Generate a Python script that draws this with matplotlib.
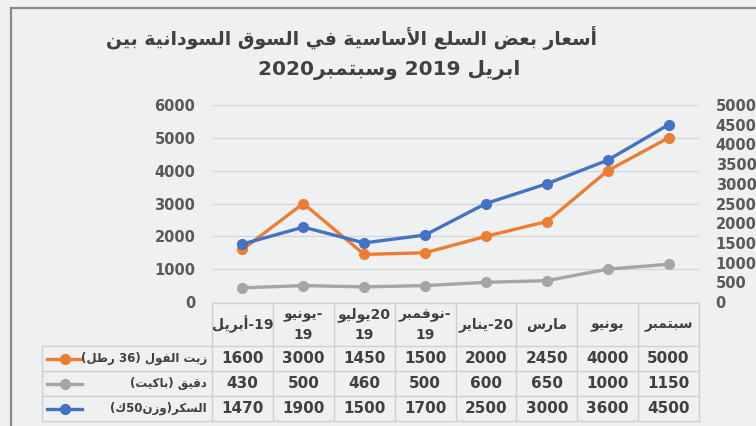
#!/usr/bin/env python3
# -*- coding: utf-8 -*-
"""
أسعار بعض السلع الأساسية في السوق السودانية - رسم خطي مع جدول بيانات
"""
import re
import matplotlib
matplotlib.use('Agg')
import matplotlib.pyplot as plt

plt.rcParams['font.family'] = ['DejaVu Sans']

# ========== البيانات ==========
title_lines = ['أسعار بعض السلع الأساسية في السوق السودانية بين',
               'ابريل 2019 وسبتمبر2020']
months = ['أبريل-19', 'يونيو-\n19', 'يوليو20\n19', 'نوفمبر-\n19',
          'يناير-20', 'مارس', 'يونيو', 'سبتمبر']
series_names = ['زيت الفول (36 رطل)', 'دقيق (باكيت)', 'السكر(وزن50ك)']
oil = [1600, 3000, 1450, 1500, 2000, 2450, 4000, 5000]
flour = [430, 500, 460, 500, 600, 650, 1000, 1150]
sugar = [1470, 1900, 1500, 1700, 2500, 3000, 3600, 4500]
left_ticks = [0, 1000, 2000, 3000, 4000, 5000, 6000]
right_ticks = [0, 500, 1000, 1500, 2000, 2500, 3000, 3500, 4000, 4500, 5000]

colors = ['#ed7d31', '#a5a5a5', '#4472c4']
TXT = '#404040'
BG = '#eff0f2'
GRID = '#d6d7d9'

# ========== تشكيل الحروف العربية (matplotlib لا يدعم الربط) ==========
AR_FORMS = {
    'ا': (0xFE8D, 0xFE8E), 'أ': (0xFE83, 0xFE84), 'إ': (0xFE87, 0xFE88),
    'آ': (0xFE81, 0xFE82), 'ب': (0xFE8F, 0xFE90, 0xFE91, 0xFE92),
    'ة': (0xFE93, 0xFE94), 'ت': (0xFE95, 0xFE96, 0xFE97, 0xFE98),
    'ث': (0xFE99, 0xFE9A, 0xFE9B, 0xFE9C), 'ج': (0xFE9D, 0xFE9E, 0xFE9F, 0xFEA0),
    'ح': (0xFEA1, 0xFEA2, 0xFEA3, 0xFEA4), 'خ': (0xFEA5, 0xFEA6, 0xFEA7, 0xFEA8),
    'د': (0xFEA9, 0xFEAA), 'ذ': (0xFEAB, 0xFEAC), 'ر': (0xFEAD, 0xFEAE),
    'ز': (0xFEAF, 0xFEB0), 'س': (0xFEB1, 0xFEB2, 0xFEB3, 0xFEB4),
    'ش': (0xFEB5, 0xFEB6, 0xFEB7, 0xFEB8), 'ص': (0xFEB9, 0xFEBA, 0xFEBB, 0xFEBC),
    'ض': (0xFEBD, 0xFEBE, 0xFEBF, 0xFEC0), 'ط': (0xFEC1, 0xFEC2, 0xFEC3, 0xFEC4),
    'ظ': (0xFEC5, 0xFEC6, 0xFEC7, 0xFEC8), 'ع': (0xFEC9, 0xFECA, 0xFECB, 0xFECC),
    'غ': (0xFECD, 0xFECE, 0xFECF, 0xFED0), 'ف': (0xFED1, 0xFED2, 0xFED3, 0xFED4),
    'ق': (0xFED5, 0xFED6, 0xFED7, 0xFED8), 'ك': (0xFED9, 0xFEDA, 0xFEDB, 0xFEDC),
    'ل': (0xFEDD, 0xFEDE, 0xFEDF, 0xFEE0), 'م': (0xFEE1, 0xFEE2, 0xFEE3, 0xFEE4),
    'ن': (0xFEE5, 0xFEE6, 0xFEE7, 0xFEE8), 'ه': (0xFEE9, 0xFEEA, 0xFEEB, 0xFEEC),
    'و': (0xFEED, 0xFEEE), 'ى': (0xFEEF, 0xFEF0),
    'ي': (0xFEF1, 0xFEF2, 0xFEF3, 0xFEF4),
}
LAM_ALEF = {'ا': (0xFEFB, 0xFEFC), 'أ': (0xFEF7, 0xFEF8),
            'إ': (0xFEF9, 0xFEFA), 'آ': (0xFEF5, 0xFEF6)}


def shape(s):
    out = []
    i, n = 0, len(s)
    while i < n:
        c = s[i]
        if c not in AR_FORMS:
            out.append(c)
            i += 1
            continue
        prev = s[i - 1] if i > 0 else ''
        joins_prev = prev in AR_FORMS and len(AR_FORMS[prev]) == 4
        if c == 'ل' and i + 1 < n and s[i + 1] in LAM_ALEF:
            f = LAM_ALEF[s[i + 1]]
            out.append(chr(f[1] if joins_prev else f[0]))
            i += 2
            continue
        nxt = s[i + 1] if i + 1 < n else ''
        f = AR_FORMS[c]
        joins_next = len(f) == 4 and nxt in AR_FORMS
        if joins_prev and joins_next:
            ch = f[3]
        elif joins_prev:
            ch = f[1]
        elif joins_next:
            ch = f[2]
        else:
            ch = f[0]
        out.append(chr(ch))
        i += 1
    return ''.join(out)


def rtl(s):
    """سطر من اليمين لليسار"""
    tokens = re.findall(r'[0-9A-Za-z.,%]+|.', shape(s))
    mirror = {'(': ')', ')': '('}
    return ''.join(mirror.get(t, t) for t in reversed(tokens))


def ltr(s):
    """سطر من اليسار لليمين (كما في خلايا الجدول)"""
    return re.sub(r'[\uFE70-\uFEFF]+(?: [\uFE70-\uFEFF]+)*',
                  lambda m: m.group(0)[::-1], shape(s))


# ========== الرسم ==========
W, H = 756, 426
fig = plt.figure(figsize=(W / 100, H / 100), dpi=100, facecolor=BG)

x0, x1, y_top, y_bot = 212, 699, 105, 302
ax = fig.add_axes([x0 / W, 1 - y_bot / H, (x1 - x0) / W, (y_bot - y_top) / H])
ax.set_facecolor('none')
xs = list(range(len(months)))

ax.plot(xs, oil, color=colors[0], lw=2.4, marker='o', ms=7, zorder=3)
ax.plot(xs, flour, color=colors[1], lw=2.4, marker='o', ms=7, zorder=3)
ax.set_xlim(-0.5, len(months) - 0.5)
ax.set_ylim(0, 6000)
ax.set_yticks(left_ticks)
ax.set_xticks([])
ax.yaxis.grid(True, color=GRID, lw=1)
ax.set_axisbelow(True)
for s in ax.spines.values():
    s.set_visible(False)
ax.tick_params(axis='y', length=0, pad=12, labelsize=10.5, labelcolor='#595959')
for lbl in ax.get_yticklabels():
    lbl.set_fontweight('bold')

ax2 = ax.twinx()
ax2.plot(xs, sugar, color=colors[2], lw=2.4, marker='o', ms=7, zorder=3)
ax2.set_ylim(0, 5000)
ax2.set_yticks(right_ticks)
for s in ax2.spines.values():
    s.set_visible(False)
ax2.tick_params(axis='y', length=0, pad=12, labelsize=10.5, labelcolor='#595959')
for lbl in ax2.get_yticklabels():
    lbl.set_fontweight('bold')

# طبقة بإحداثيات البكسل للعنوان والجدول والإطار
ov = fig.add_axes([0, 0, 1, 1])
ov.set_xlim(0, W)
ov.set_ylim(H, 0)
ov.set_axis_off()
ov.patch.set_visible(False)

# الإطار
ov.plot([10.5, W], [7.5, 7.5], color='#878a8f', lw=1.6)
ov.plot([10.5, 10.5], [7.5, H], color='#878a8f', lw=1.6)

# العنوان
ov.text(352, 38, rtl(title_lines[0]), ha='center', va='center',
        fontsize=13.5, fontweight='bold', color=TXT)
ov.text(389, 70, rtl(title_lines[1]), ha='center', va='center',
        fontsize=14.5, fontweight='bold', color=TXT)

# الجدول
col_w = (x1 - x0) / len(months)
hdr_top, hdr_bot, row_h = 303, 346, 25
leg_left = 42
line_kw = dict(color='#cfd0d2', lw=1)
n_rows = len(series_names)
tbl_bot = hdr_bot + row_h * n_rows
ov.plot([x0, x1], [hdr_top, hdr_top], **line_kw)
for r in range(n_rows + 1):
    y = hdr_bot + r * row_h
    ov.plot([leg_left, x1], [y, y], **line_kw)
for c in range(len(months) + 1):
    x = x0 + c * col_w
    ov.plot([x, x], [hdr_top, tbl_bot], **line_kw)
ov.plot([leg_left, leg_left], [hdr_bot, tbl_bot], **line_kw)

for c, m in enumerate(months):
    xc = x0 + (c + 0.5) * col_w
    parts = m.split('\n')
    if len(parts) == 1:
        ys = [(hdr_top + hdr_bot) / 2]
    else:
        ys = [hdr_top + 12, hdr_top + 32]
    for p, y in zip(parts, ys):
        ov.text(xc, y, ltr(p), ha='center', va='center', fontsize=10,
                fontweight='bold', color=TXT)

for r, (name, vals) in enumerate(zip(series_names, [oil, flour, sugar])):
    yc = hdr_bot + (r + 0.5) * row_h
    ov.plot([47, 64.5, 82], [yc, yc, yc], color=colors[r], lw=2.4,
            marker='o', markevery=[1], ms=7)
    ov.text(207, yc, rtl(name), ha='right', va='center', fontsize=8.5,
            fontweight='bold', color=TXT)
    for c, v in enumerate(vals):
        xc = x0 + (c + 0.5) * col_w
        ov.text(xc, yc, f'{v}', ha='center', va='center', fontsize=11,
                fontweight='bold', color=TXT)

fig.savefig('out.png', dpi=100, facecolor=BG)
